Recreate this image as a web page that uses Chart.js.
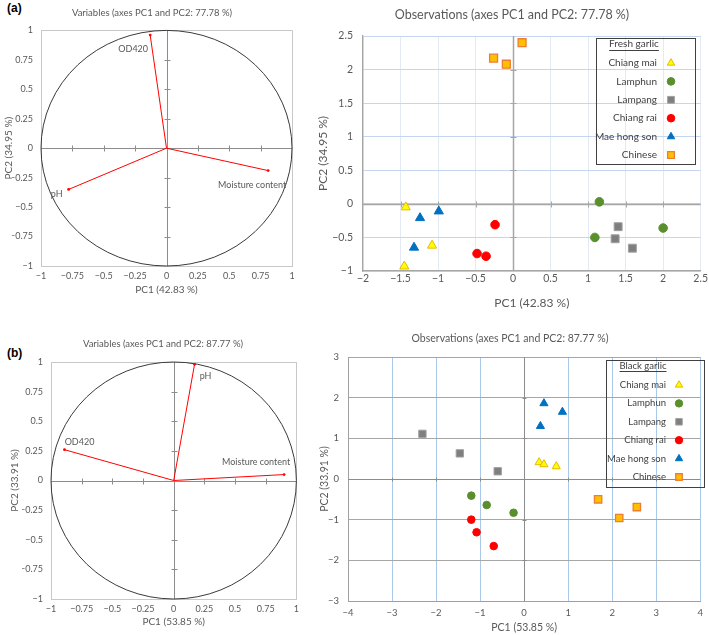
<!DOCTYPE html>
<html>
<head>
<meta charset="utf-8">
<script src="https://cdn.jsdelivr.net/npm/chart.js@4/dist/chart.umd.min.js"></script>
<style>
html,body{margin:0;padding:0;background:#fff;}
body{width:709px;height:635px;position:relative;overflow:hidden;}
canvas{position:absolute;}
.panel{position:absolute;font-family:"Liberation Sans",Arial,sans-serif;font-weight:bold;font-size:12px;color:#000;}
</style>
</head>
<body>
<div class="panel" style="left:7px;top:1px;">(a)</div>
<div class="panel" style="left:7px;top:346px;">(b)</div>
<canvas id="cA" width="304" height="300" style="left:0px;top:0px;"></canvas>
<canvas id="cB" width="409" height="312" style="left:300px;top:0px;"></canvas>
<canvas id="cC" width="304" height="307" style="left:0px;top:328px;"></canvas>
<canvas id="cD" width="409" height="315" style="left:300px;top:320px;"></canvas>
<script>
// ---------------- DATA ----------------
const regions = ['Chiang mai','Lamphun','Lampang','Chiang rai','Mae hong son','Chinese'];

const freshVarNames = ['OD420','Moisture content','pH'];
const freshVarPC1 = [-0.13, 0.81, -0.78];
const freshVarPC2 = [0.96, -0.19, -0.35];

const blackVarNames = ['pH','OD420','Moisture content'];
const blackVarPC1 = [0.17, -0.89, 0.90];
const blackVarPC2 = [0.98, 0.26, 0.05];

// observations, one row per region (order of `regions`)
const freshObsPC1 = [
  [-1.43, -1.08, -1.45],
  [1.15, 1.09, 2.00],
  [1.40, 1.36, 1.59],
  [-0.24, -0.48, -0.36],
  [-1.24, -0.99, -1.32],
  [-0.26, -0.09, 0.12]
];
const freshObsPC2 = [
  [-0.05, -0.62, -0.93],
  [0.03, -0.50, -0.36],
  [-0.34, -0.52, -0.66],
  [-0.31, -0.74, -0.78],
  [-0.21, -0.11, -0.65],
  [2.17, 2.08, 2.40]
];
const blackObsPC1 = [
  [0.34, 0.45, 0.73],
  [-1.20, -0.85, -0.24],
  [-2.31, -1.46, -0.60],
  [-1.20, -1.08, -0.69],
  [0.45, 0.87, 0.37],
  [1.68, 2.16, 2.56]
];
const blackObsPC2 = [
  [0.41, 0.36, 0.31],
  [-0.41, -0.64, -0.83],
  [1.11, 0.63, 0.19],
  [-1.00, -1.31, -1.65],
  [1.86, 1.65, 1.30],
  [-0.50, -0.96, -0.69]
];

const varTicks = [-1, -0.75, -0.5, -0.25, 0, 0.25, 0.5, 0.75, 1];
const freshObsXTicks = [-2, -1.5, -1, -0.5, 0, 0.5, 1, 1.5, 2, 2.5];
const freshObsYTicks = [-1, -0.5, 0, 0.5, 1, 1.5, 2, 2.5];
const blackObsXTicks = [-4, -3, -2, -1, 0, 1, 2, 3, 4];
const blackObsYTicks = [-3, -2, -1, 0, 1, 2, 3];

// ---------------- STYLES ----------------
const FONT = 'Lato';
const TXT = '#595959';
const markerStyles = [
  {shape:'triangle', bg:'#FFFF00', border:'#E6B800', bw:1},
  {shape:'circle',   bg:'#5A8F2E', border:'#5A8F2E', bw:1},
  {shape:'rect',     bg:'#7F7F7F', border:'#A0A0A0', bw:1},
  {shape:'circle',   bg:'#FF0000', border:'#FF0000', bw:1},
  {shape:'triangle', bg:'#0070C0', border:'#0070C0', bw:1},
  {shape:'rect',     bg:'#FFC000', border:'#ED7D31', bw:1.3}
];

const fmt = v => String(v).replace('-', '\u2212');

// ---------------- PLUGINS ----------------
function drawShape(ctx, shape, x, y, r) {
  ctx.beginPath();
  if (shape === 'triangle') {
    const s = Math.sin(Math.PI * 2 / 3) * r;
    ctx.moveTo(x, y - r); ctx.lineTo(x + s, y + r / 2); ctx.lineTo(x - s, y + r / 2); ctx.closePath();
  } else if (shape === 'circle') {
    ctx.arc(x, y, r, 0, Math.PI * 2);
  } else {
    const h = r * Math.SQRT1_2;
    ctx.rect(x - h, y - h, 2 * h, 2 * h);
  }
}

const zeroAxes = {
  id: 'zeroAxes',
  beforeDatasetsDraw(chart, args, o) {
    const {ctx, scales: {x, y}} = chart;
    const x0 = Math.round(x.getPixelForValue(0)) + 0.5;
    const y0 = Math.round(y.getPixelForValue(0)) + 0.5;
    ctx.save();
    ctx.strokeStyle = o.color; ctx.lineWidth = o.width;
    ctx.beginPath();
    ctx.moveTo(x.left, y0); ctx.lineTo(x.right, y0);
    ctx.moveTo(x0, y.top); ctx.lineTo(x0, y.bottom);
    ctx.stroke();
    ctx.lineWidth = 1;
    ctx.beginPath();
    x.ticks.forEach(t => {
      if (t.value === x.min || t.value === x.max || t.value === 0) return;
      const px = Math.round(x.getPixelForValue(t.value)) + 0.5;
      ctx.moveTo(px, y0 - o.tick); ctx.lineTo(px, y0 + o.tick);
    });
    y.ticks.forEach(t => {
      if (t.value === y.min || t.value === y.max || t.value === 0) return;
      const py = Math.round(y.getPixelForValue(t.value)) + 0.5;
      ctx.moveTo(x0 - o.tick, py); ctx.lineTo(x0 + o.tick, py);
    });
    ctx.stroke();
    ctx.restore();
  }
};

const unitCircle = {
  id: 'unitCircle',
  beforeDatasetsDraw(chart, args, o) {
    const {ctx, scales: {x, y}} = chart;
    const cx = x.getPixelForValue(0), cy = y.getPixelForValue(0);
    const rx = x.getPixelForValue(1) - cx, ry = cy - y.getPixelForValue(1);
    ctx.save();
    ctx.strokeStyle = o.color; ctx.lineWidth = 1;
    ctx.beginPath(); ctx.ellipse(cx, cy, rx, ry, 0, 0, Math.PI * 2); ctx.stroke();
    ctx.restore();
  }
};

const vectorLabels = {
  id: 'vectorLabels',
  afterDatasetsDraw(chart, args, o) {
    const {ctx, scales: {x, y}} = chart;
    ctx.save();
    ctx.font = o.size + 'px ' + FONT;
    ctx.fillStyle = TXT;
    ctx.textAlign = 'center'; ctx.textBaseline = 'middle';
    o.names.forEach((n, i) => {
      const px = x.getPixelForValue(o.xs[i]) + o.offsets[i][0];
      const py = y.getPixelForValue(o.ys[i]) + o.offsets[i][1];
      ctx.fillText(n, px, py);
    });
    ctx.restore();
  }
};

const boxLegend = {
  id: 'boxLegend',
  afterDraw(chart, args, o) {
    const ctx = chart.ctx;
    ctx.save();
    ctx.strokeStyle = '#404040'; ctx.lineWidth = 1;
    ctx.strokeRect(o.box[0] + 0.5, o.box[1] + 0.5, o.box[2], o.box[3]);
    ctx.font = o.size + 'px ' + FONT;
    ctx.fillStyle = '#404040';
    ctx.textBaseline = 'middle';
    ctx.textAlign = 'center';
    ctx.fillText(o.title, o.titleX, o.titleY);
    const tw = ctx.measureText(o.title).width;
    ctx.beginPath();
    ctx.moveTo(o.titleX - tw / 2, Math.round(o.titleY + o.size * 0.55) + 0.5);
    ctx.lineTo(o.titleX + tw / 2, Math.round(o.titleY + o.size * 0.55) + 0.5);
    ctx.stroke();
    ctx.textAlign = 'right';
    o.labels.forEach((lab, i) => {
      const yy = o.firstY + i * o.step;
      ctx.fillStyle = '#404040';
      ctx.fillText(lab, o.textRight, yy);
      const m = markerStyles[i];
      drawShape(ctx, m.shape, o.markerX, yy, o.radius[m.shape]);
      ctx.fillStyle = m.bg; ctx.fill();
      ctx.strokeStyle = m.border; ctx.lineWidth = m.bw; ctx.stroke();
      ctx.strokeStyle = '#404040'; ctx.lineWidth = 1;
    });
    ctx.restore();
  }
};

// ---------------- BUILDERS ----------------
function vectorDatasets(px, py) {
  return px.map((v, i) => ({
    data: [{x: 0, y: 0}, {x: v, y: py[i]}],
    showLine: true,
    borderColor: '#FF0000',
    borderWidth: 1,
    pointRadius: [0, 1.4],
    pointBackgroundColor: '#FF0000',
    pointBorderWidth: 0
  }));
}

function obsDatasets(px, py, radius) {
  return regions.map((name, i) => ({
    label: name,
    data: px[i].map((v, j) => ({x: v, y: py[i][j]})),
    pointStyle: markerStyles[i].shape,
    backgroundColor: markerStyles[i].bg,
    borderColor: markerStyles[i].border,
    borderWidth: markerStyles[i].bw,
    pointRadius: radius[markerStyles[i].shape],
    showLine: false
  }));
}

function axis(o) {
  return {
    type: 'linear',
    min: o.ticks[0], max: o.ticks[o.ticks.length - 1],
    afterBuildTicks: s => { s.ticks = o.ticks.map(v => ({value: v})); },
    afterFit: s => { if (o.width !== undefined) s.width = o.width; if (o.height !== undefined) s.height = o.height; },
    ticks: {
      autoSkip: false, maxRotation: 0, padding: o.tickPad,
      color: TXT, font: {family: FONT, size: o.tickSize},
      callback: v => fmt(v)
    },
    grid: {
      drawTicks: false,
      color: o.gridColor,
      lineWidth: 1
    },
    border: {display: true, color: o.borderColor, width: o.borderWidth || 1},
    title: {
      display: true, text: o.title, color: TXT,
      font: {family: FONT, size: o.titleSize},
      padding: o.titlePad
    }
  };
}

function edgeOnly(ticks, color) {
  const lo = ticks[0], hi = ticks[ticks.length - 1];
  return c => (c.tick && (c.tick.value === lo || c.tick.value === hi)) ? color : 'rgba(0,0,0,0)';
}

function baseOptions(o) {
  return {
    responsive: false, animation: false, devicePixelRatio: 1,
    layout: {padding: o.padding},
    plugins: {
      legend: {display: false},
      tooltip: {enabled: false},
      title: {
        display: true, text: o.title, color: TXT,
        font: {family: FONT, size: o.titleSize, weight: 'normal'},
        padding: o.titlePad
      }
    },
    scales: {x: o.x, y: o.y}
  };
}

// ---------------- PANEL A: fresh variables ----------------
const optA = baseOptions({
  padding: {left: 12, right: 12, top: 0, bottom: 0},
  title: 'Variables (axes PC1 and PC2: 77.78 %)', titleSize: 9.5, titlePad: {top: 7, bottom: 12},
  x: axis({ticks: varTicks, height: 34, tickPad: 5, tickSize: 9, title: 'PC1 (42.83 %)', titleSize: 10,
            titlePad: {top: 0, bottom: 4}, gridColor: edgeOnly(varTicks, '#C8C8C8'), borderColor: '#C8C8C8'}),
  y: axis({ticks: varTicks, width: 29, tickPad: 8, tickSize: 9, title: 'PC2 (34.95 %)', titleSize: 10,
            titlePad: {top: -9, bottom: 0}, gridColor: edgeOnly(varTicks, '#C8C8C8'), borderColor: '#C8C8C8'})
});
optA.plugins.zeroAxes = {color: '#8C8C8C', width: 1, tick: 3};
optA.plugins.unitCircle = {color: '#3A3A3A'};
optA.plugins.vectorLabels = {names: freshVarNames, xs: freshVarPC1, ys: freshVarPC2, size: 9,
  offsets: [[-17, 14], [-16, 15], [-12, 5]]};
new Chart(document.getElementById('cA'), {
  type: 'scatter',
  data: {datasets: vectorDatasets(freshVarPC1, freshVarPC2)},
  options: optA,
  plugins: [zeroAxes, unitCircle, vectorLabels]
});

// ---------------- PANEL B: fresh observations ----------------
const optB = baseOptions({
  padding: {left: 21, right: 6, top: 0, bottom: 0},
  title: 'Observations (axes PC1 and PC2: 77.78 %)', titleSize: 12.5, titlePad: {top: 7.5, bottom: 13.5},
  x: axis({ticks: freshObsXTicks, height: 41, tickPad: 1, tickSize: 10.5, title: 'PC1 (42.83 %)', titleSize: 12,
            titlePad: {top: 0, bottom: 2}, gridColor: c => '#E3EAF6', borderColor: '#A6A6A6', borderWidth: 1.3}),
  y: axis({ticks: freshObsYTicks, width: 42, tickPad: 10, tickSize: 10.5, title: 'PC2 (34.95 %)', titleSize: 12,
            titlePad: {top: -5, bottom: 0}, gridColor: c => '#C5D6EE', borderColor: '#A6A6A6', borderWidth: 1.3})
});
optB.plugins.zeroAxes = {color: '#A6A6A6', width: 1.5, tick: 3};
optB.plugins.boxLegend = {box: [296, 38, 99, 126], title: 'Fresh garlic', titleX: 334, titleY: 44,
  labels: regions, firstY: 63, step: 18.4, textRight: 357, markerX: 371, size: 10,
  radius: {triangle: 4.3, circle: 3.8, rect: 4.8}};
new Chart(document.getElementById('cB'), {
  type: 'scatter',
  data: {datasets: obsDatasets(freshObsPC1, freshObsPC2, {triangle: 5.3, circle: 4.3, rect: 5.6})},
  options: optB,
  plugins: [zeroAxes, boxLegend]
});

// ---------------- PANEL C: black variables ----------------
const optC = baseOptions({
  padding: {left: 22, right: 0, top: 0, bottom: 0},
  title: 'Variables (axes PC1 and PC2: 87.77 %)', titleSize: 9.5, titlePad: {top: 10.3, bottom: 12.3},
  x: axis({ticks: varTicks, height: 36, tickPad: 5, tickSize: 9, title: 'PC1 (53.85 %)', titleSize: 10,
            titlePad: {top: 0, bottom: 7}, gridColor: edgeOnly(varTicks, '#C8C8C8'), borderColor: '#C8C8C8'}),
  y: axis({ticks: varTicks, width: 29, tickPad: 8, tickSize: 9, title: 'PC2 (33.91 %)', titleSize: 10,
            titlePad: {top: -13, bottom: 0}, gridColor: edgeOnly(varTicks, '#C8C8C8'), borderColor: '#C8C8C8'})
});
optC.plugins.zeroAxes = {color: '#8C8C8C', width: 1, tick: 3};
optC.plugins.unitCircle = {color: '#3A3A3A'};
optC.plugins.vectorLabels = {names: blackVarNames, xs: blackVarPC1, ys: blackVarPC2, size: 9,
  offsets: [[11, 12], [15, -8], [-28, -12]]};
new Chart(document.getElementById('cC'), {
  type: 'scatter',
  data: {datasets: vectorDatasets(blackVarPC1, blackVarPC2)},
  options: optC,
  plugins: [zeroAxes, unitCircle, vectorLabels]
});

// ---------------- PANEL D: black observations ----------------
const optD = baseOptions({
  padding: {left: 16, right: 5, top: 0, bottom: 0},
  title: 'Observations (axes PC1 and PC2: 87.77 %)', titleSize: 10.5, titlePad: {top: 12.7, bottom: 11.7},
  x: axis({ticks: blackObsXTicks, height: 34, tickPad: 6, tickSize: 9.5, title: 'PC1 (53.85 %)', titleSize: 10.5,
            titlePad: {top: 0, bottom: 0.7}, gridColor: c => '#A9C9EA', borderColor: '#A0A0A0'}),
  y: axis({ticks: blackObsYTicks, width: 32, tickPad: 9, tickSize: 9.5, title: 'PC2 (33.91 %)', titleSize: 10.5,
            titlePad: {top: 2.7, bottom: 0}, gridColor: c => '#A6A6A6', borderColor: '#A0A0A0'})
});
optD.plugins.zeroAxes = {color: '#8C8C8C', width: 1, tick: 2};
optD.plugins.boxLegend = {box: [306, 40, 98, 127], title: 'Black garlic', titleX: 343, titleY: 46,
  labels: regions, firstY: 65, step: 18.4, textRight: 366, markerX: 379, size: 9.5,
  radius: {triangle: 4.2, circle: 3.7, rect: 4.6}};
new Chart(document.getElementById('cD'), {
  type: 'scatter',
  data: {datasets: obsDatasets(blackObsPC1, blackObsPC2, {triangle: 4.7, circle: 3.8, rect: 5.2})},
  options: optD,
  plugins: [zeroAxes, boxLegend]
});
</script>
</body>
</html>
